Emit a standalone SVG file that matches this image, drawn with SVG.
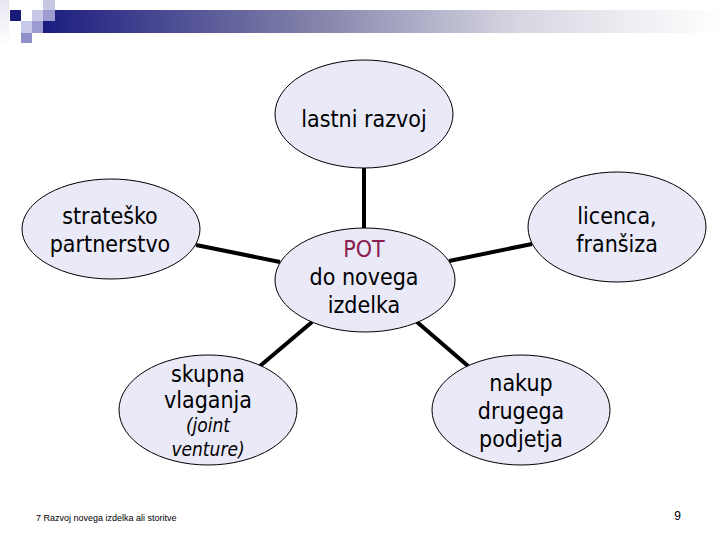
<svg xmlns="http://www.w3.org/2000/svg" width="720" height="540" viewBox="0 0 720 540">
  <defs>
    <linearGradient id="bar" x1="0" y1="0" x2="1" y2="0">
      <stop offset="0" stop-color="#1c1c80"/>
      <stop offset="0.4" stop-color="#8282aa"/>
      <stop offset="0.7" stop-color="#d6d6e2"/>
      <stop offset="1" stop-color="#ffffff"/>
    </linearGradient>
    <linearGradient id="strip" x1="0" y1="0" x2="0" y2="1">
      <stop offset="0" stop-color="#e6e6f0"/>
      <stop offset="1" stop-color="#ffffff"/>
    </linearGradient>
  </defs>
  <style>
    .node ellipse { fill: #e9e9f8; stroke: #000; stroke-width: 1; }
    .t { font-family: "DejaVu Sans Condensed", "DejaVu Sans", sans-serif; font-stretch: condensed; font-size: 23px; fill: #000; text-anchor: middle; }
    .it { font-style: italic; font-size: 19px; }
    .pot { fill: #8a1e4e; }
    .conn line { stroke: #000; stroke-width: 4; stroke-linecap: butt; }
    .foot { font-family: "Liberation Sans", Arial, sans-serif; font-size: 9px; fill: #000; }
  </style>

  <g id="decoration">
    <rect x="0" y="0" width="9" height="45" fill="url(#strip)"/>
    <rect x="43" y="10" width="677" height="23" fill="url(#bar)"/>
    <rect x="10" y="10" width="11" height="11" fill="#1a1a7a"/>
    <rect x="43" y="0" width="12" height="10" fill="#c8c8e4"/>
    <rect x="32" y="10" width="11" height="11" fill="#c8c8e6"/>
    <rect x="43" y="10" width="12" height="11" fill="#9c9cd0"/>
    <rect x="21" y="21" width="11" height="12" fill="#c8c8e8"/>
    <rect x="32" y="21" width="11" height="12" fill="#9c9cd0"/>
    <rect x="21" y="33" width="11" height="10" fill="#9090c8"/>
  </g>

  <g id="connectors" class="conn">
    <line x1="364" y1="168" x2="364" y2="228"/>
    <line x1="196" y1="245" x2="280" y2="262"/>
    <line x1="449" y1="261" x2="532" y2="244"/>
    <line x1="260" y1="366" x2="312" y2="322"/>
    <line x1="417" y1="322" x2="468" y2="366"/>
  </g>

  <g id="node-lastni" class="node">
    <ellipse cx="364" cy="114" rx="89" ry="54"/>
    <text class="t" x="364" y="127">lastni razvoj</text>
  </g>

  <g id="node-strat" class="node">
    <ellipse cx="111" cy="229" rx="89" ry="50"/>
    <text class="t" x="110" y="224">strateško</text>
    <text class="t" x="110" y="252">partnerstvo</text>
  </g>

  <g id="node-pot" class="node">
    <ellipse cx="365" cy="280" rx="90" ry="52"/>
    <text class="t pot" x="364" y="257">POT</text>
    <text class="t" x="364" y="285">do novega</text>
    <text class="t" x="364" y="313">izdelka</text>
  </g>

  <g id="node-licenca" class="node">
    <ellipse cx="617" cy="227" rx="89" ry="55"/>
    <text class="t" x="617" y="224">licenca,</text>
    <text class="t" x="617" y="252">franšiza</text>
  </g>

  <g id="node-skupna" class="node">
    <ellipse cx="208" cy="410" rx="89" ry="55"/>
    <text class="t" x="208" y="382">skupna</text>
    <text class="t" x="208" y="408">vlaganja</text>
    <text class="t it" x="208" y="432">(joint</text>
    <text class="t it" x="208" y="456">venture)</text>
  </g>

  <g id="node-nakup" class="node">
    <ellipse cx="521" cy="410" rx="89" ry="55"/>
    <text class="t" x="521" y="391">nakup</text>
    <text class="t" x="521" y="419">drugega</text>
    <text class="t" x="521" y="447">podjetja</text>
  </g>

  <g id="footer">
    <text class="foot" x="36" y="521">7 Razvoj novega izdelka ali storitve</text>
    <text class="foot" x="681" y="520" text-anchor="end" style="font-size:12px">9</text>
  </g>
</svg>
